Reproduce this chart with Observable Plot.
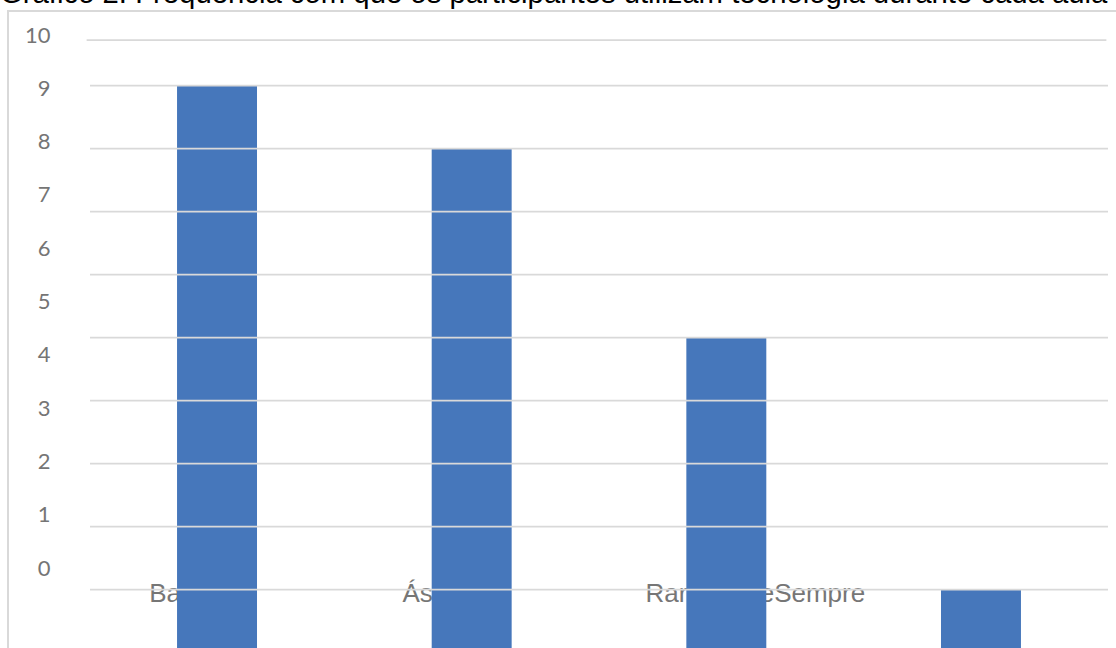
<!DOCTYPE html>
<html>
<head>
<meta charset="utf-8">
<script src="https://cdn.jsdelivr.net/npm/d3@7"></script>
<script src="https://cdn.jsdelivr.net/npm/@observablehq/plot@0.6"></script>
<style>
  html, body { margin: 0; padding: 0; background: #fff; overflow: hidden; }
  #page { position: relative; width: 1116px; height: 648px; overflow: hidden; }
  #title {
    position: absolute; left: 0; top: -21.6px;
    font: 29.3px "Liberation Sans", Arial, sans-serif; line-height: 29.3px;
    color: #000; white-space: nowrap;
  }
  #box {
    position: absolute; left: 7px; top: 10px; width: 1300px; height: 800px;
    border-left: 2px solid #d9d9d9; border-top: 2px solid #d9d9d9;
  }
  #chart, #axis { position: absolute; left: 0; top: 0; }
</style>
</head>
<body>
<div id="page">
  <div id="title">Gráfico 2: Frequência com que os participantes utilizam tecnologia durante cada aula</div>
  <div id="box"></div>
  <div id="chart"></div>
  <div id="axis"></div>
</div>
<script>
// Responses per frequency category
const categories = ["Bastante", "Ás vezes", "Raramente", "Sempre"];
const counts = [9, 8, 5, 1];
// Horizontal gridlines and the value labels of the left axis
const gridValues = [1, 2, 3, 4, 5, 6, 7, 8, 9];
const axisTicks = [0, 1, 2, 3, 4, 5, 6, 7, 8, 9, 10];

const data = categories.map((c, i) => ({categoria: c, total: counts[i]}));

const labelSize = 26;
const labelFamily = '"Liberation Sans", Arial, sans-serif';
const labelFill = "#767676";
const gridColor = "#d9d9d9";

// width of the third label, so the last one can follow it on the same line
const ctx = document.createElement("canvas").getContext("2d");
ctx.font = `${labelSize}px ${labelFamily}`;
const thirdWidth = ctx.measureText(categories[2]).width;
const labelShift = -17;

const chart = Plot.plot({
  width: 1116,
  height: 648,
  marginTop: 39.5,
  marginLeft: 90,
  marginRight: 8,
  marginBottom: 0,
  style: {background: "transparent"},
  x: {type: "band", domain: categories, range: [89.7, 1108.3], paddingInner: 0.686, paddingOuter: 0.343, round: false, axis: null},
  y: {domain: [0, 10], range: [652, 22], axis: null},
  marks: [
    // category labels sit behind the bars
    Plot.text(categories.slice(0, 3), {
      x: d => d, text: d => d, frameAnchor: "bottom", dy: -47, dx: labelShift,
      textAnchor: "middle", fontSize: labelSize, fontFamily: labelFamily, fill: labelFill
    }),
    Plot.text(categories.slice(3), {
      x: () => categories[2], text: d => d, frameAnchor: "bottom", dy: -47,
      dx: labelShift + thirdWidth / 2, textAnchor: "start",
      fontSize: labelSize, fontFamily: labelFamily, fill: labelFill
    }),
    Plot.barY(data, {x: "categoria", y: "total", fill: "#4677bb"}),
    Plot.ruleY(gridValues, {stroke: gridColor, strokeWidth: 1.75}),
    Plot.frame({anchor: "top", stroke: gridColor, strokeWidth: 1.75, dx: -3})
  ]
});
document.getElementById("chart").appendChild(chart);

// value axis labels
const axis = Plot.plot({
  width: 100,
  height: 648,
  marginLeft: 50,
  marginRight: 0,
  marginTop: 0,
  marginBottom: 0,
  style: {background: "transparent"},
  y: {domain: [0, 10], range: [568, 35]},
  marks: [
    Plot.axisY(axisTicks, {
      anchor: "left", tickSize: 0, tickPadding: 0, label: null,
      tickFormat: d => String(d),
      fontSize: 22, fontFamily: "Lato, sans-serif", color: "#757575"
    })
  ]
});
document.getElementById("axis").appendChild(axis);
</script>
</body>
</html>
